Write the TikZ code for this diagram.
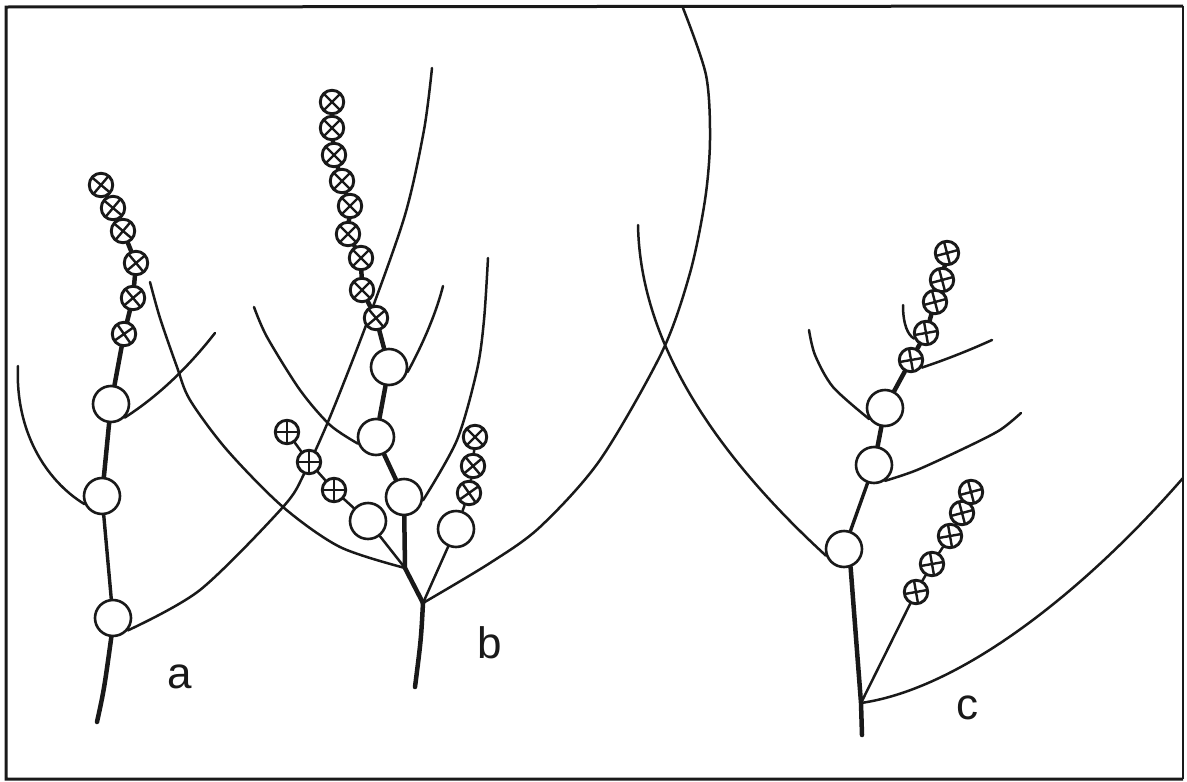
\documentclass[tikz,border=0pt]{standalone}
\usepackage{fontspec}
\setmainfont{Liberation Sans}
\usetikzlibrary{calc,backgrounds}
\definecolor{ink}{gray}{0.1}
\tikzset{
  big/.style={circle, draw=ink, line width=2.6pt, minimum size=36pt, inner sep=0pt, fill=white},
  xc/.style={circle, draw=ink, line width=2.9pt, minimum size=23.5pt, inner sep=0pt, fill=white,
    path picture={\draw[ink, line width=2.4pt]
      ($(path picture bounding box.center)+(#1:20pt)$) -- ($(path picture bounding box.center)+(#1+180:20pt)$)
      ($(path picture bounding box.center)+(#1+90:20pt)$) -- ($(path picture bounding box.center)+(#1+270:20pt)$);}},
  xc/.default=45,
  stem/.style={ink, line width=4.5pt, line cap=round, line join=round},
  midstem/.style={ink, line width=3.4pt, line cap=round},
  twig/.style={ink, line width=2.5pt, line cap=round, line join=round},
  lbl/.style={ink, font=\fontsize{44}{50}\selectfont, inner sep=0pt},
  frame/.style={ink, line width=3pt},
}
\begin{document}
\begin{tikzpicture}[x=1pt, y=-1pt]
\useasboundingbox (0,0) rectangle (1187,782);
% frame
\draw[frame] (1183,6) -- (6,7) -- (6,779) -- (1183,779);
\draw[ink, line width=1.6pt] (1183,6) -- (1183,779);

% ---------- tree a ----------
\node[xc=50] (ax1) at (101,185) {};
\node[xc=50] (ax2) at (113,208) {};
\node[xc=50] (ax3) at (123,231) {};
\node[xc=40] (ax4) at (136,263) {};
\node[xc=40] (ax5) at (133,298) {};
\node[xc=35] (ax6) at (124,334) {};
\node[big] (a1) at (111,404) {};
\node[big] (a2) at (102,496) {};
\node[big] (a3) at (113,618) {};
\coordinate (aend) at (97,722);
\coordinate (aT1) at (215,333);
\coordinate (aT2) at (18,366);
\coordinate (aT3) at (432,68);

% ---------- tree b ----------
\node[xc=45] (bx1) at (332,102) {};
\node[xc=45] (bx2) at (332,128) {};
\node[xc=45] (bx3) at (334,155) {};
\node[xc=45] (bx4) at (342,181) {};
\node[xc=45] (bx5) at (350,206) {};
\node[xc=45] (bx6) at (348,234) {};
\node[xc=45] (bx7) at (361,258) {};
\node[xc=45] (bx8) at (362,290) {};
\node[xc=40] (bx9) at (376,318) {};
\node[big] (b1) at (389,367) {};
\node[big] (b2) at (376,437) {};
\node[big] (b3) at (404,497) {};
\node[big] (b4) at (368,521) {};
\node[big] (b5) at (456,529) {};
\node[xc=0] (bya) at (334,490) {};
\node[xc=0] (byb) at (309,462) {};
\node[xc=0] (byc) at (287,432) {};
\node[xc=35] (bza) at (469,493) {};
\node[xc=40] (bzb) at (473,466) {};
\node[xc=45] (bzc) at (475,437) {};
\coordinate (j1) at (405,568);
\coordinate (j2) at (423,603);
\coordinate (bend) at (415,687);
\coordinate (bT0) at (150,282);
\coordinate (bT1) at (443,286);
\coordinate (bT2) at (254,307);
\coordinate (bT3) at (488,258);
\coordinate (bT4) at (683,8);

% ---------- tree c ----------
\node[xc=15] (cx1) at (947,253) {};
\node[xc=15] (cx2) at (942,280) {};
\node[xc=15] (cx3) at (935,302) {};
\node[xc=10] (cx4) at (926,333) {};
\node[xc=10] (cx5) at (911,360) {};
\node[big] (c1) at (885,408) {};
\node[big] (c2) at (874,465) {};
\node[big] (c3) at (844,549) {};
\node[xc=10] (cy1) at (916,592) {};
\node[xc=10] (cy2) at (932,564) {};
\node[xc=10] (cy3) at (950,536) {};
\node[xc=15] (cy4) at (962,513) {};
\node[xc=15] (cy5) at (971,492) {};
\coordinate (cj) at (861,703);
\coordinate (cend) at (862,735);
\coordinate (cT1) at (809,330);
\coordinate (cT2) at (903,305);
\coordinate (cT3) at (992,340);
\coordinate (cT4) at (1021,413);
\coordinate (cT5) at (638,225);
\coordinate (cT6) at (1183,478);

\node[lbl] (la) at (180,677) {a};
\node[lbl] (lb) at (490,643) {b};
\node[lbl] (lc) at (967,708) {c};

\begin{pgfonlayer}{background}
% tree a
\draw[stem] (ax1) -- (ax2) -- (ax3) -- (ax4) -- (ax5) -- (ax6) -- (a1) -- (a2);
\draw[midstem] (a2) -- (a3);
\draw[stem] (a3.-95) .. controls (104,690) .. (aend);
\draw[twig] (a1.-45) .. controls (160,395) and (190,365) .. (aT1);
\draw[twig] (a2.205) .. controls (45,480) and (15,430) .. (aT2);
\draw[twig] plot[smooth] coordinates {(a3.-40) (200,590) (283,507) (305,472) (330,417) (368,320) (405,215) (424,130) (aT3)};
% tree b
\draw[stem] (bx1) -- (bx2) -- (bx3) -- (bx4) -- (bx5) -- (bx6) -- (bx7) -- (bx8) -- (bx9) -- (b1) -- (b2) -- (b3) -- (j1) -- (j2);
\draw[stem] (j2) .. controls (421,640) .. (bend);
\draw[twig] plot[smooth] coordinates {(j1) (340,547) (283,507) (227,450) (190,400) (177,367) (160,318) (bT0)};
\draw[twig] (b1.-15) .. controls (425,340) and (437,310) .. (bT1);
\draw[twig] plot[smooth] coordinates {(b2.200) (330,425) (300,390) (267,337) (bT2)};
\draw[twig] plot[smooth] coordinates {(b3.-10) (457,440) (477,370) (484,320) (bT3)};
\draw[twig] (j1) -- (b4);
\draw[twig] (b4) -- (bya) -- (byb) -- (byc);
\draw[twig] (j2) -- (b5);
\draw[twig] (b5) -- (bza) -- (bzb) -- (bzc);
\draw[twig] plot[smooth] coordinates {(j2) (490,563) (540,527) (600,460) (662,352) (690,273) (705,200) (710,140) (706,75) (bT4)};
% tree c
\draw[stem] (cx1) -- (cx2) -- (cx3) -- (cx4) -- (cx5) -- (c1) -- (c2);
\draw[midstem] (c2) -- (c3);
\draw[stem] (c3.-70) -- (cj) -- (cend);
\draw[twig] plot[smooth] coordinates {(c1.215) (833,387) (815,355) (cT1)};
\draw[twig] (cT2) .. controls (903,325) and (908,335) .. (cx4.205);
\draw[twig] (cx5.-35) .. controls (945,360) and (970,350) .. (cT3);
\draw[twig] plot[smooth] coordinates {(c2.-55) (917,470) (967,447) (1000,430) (cT4)};
\draw[twig] (cT5) .. controls (640,330) and (700,440) .. (c3.200);
\draw[twig] (cj) -- (cy1) -- (cy2) -- (cy3) -- (cy4) -- (cy5);
\draw[twig] (cj) .. controls (965,688) and (1090,585) .. (cT6);
\end{pgfonlayer}
\end{tikzpicture}
\end{document}
